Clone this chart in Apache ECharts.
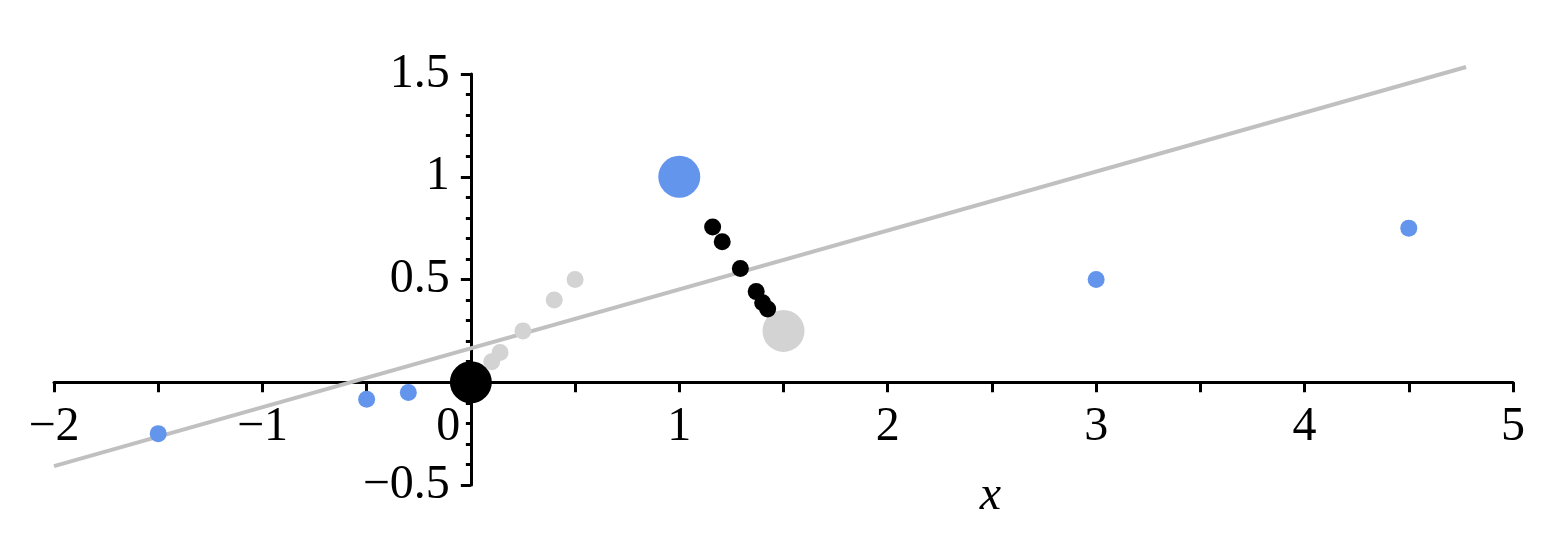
<!DOCTYPE html>
<html>
<head>
<meta charset="utf-8">
<script src="https://cdn.jsdelivr.net/npm/echarts@6/dist/echarts.min.js"></script>
<style>
    html, body { margin: 0; padding: 0; background: #fff; }
    #chart { width: 1542px; height: 558px; }
</style>
</head>
<body>
<div id="chart"></div>
<script>
// axis ranges and tick steps
const xRange = [-2, 5]
const yRange = [-0.5, 1.5]
const xStep = 0.5
const yStep = 0.5

// points
const bluePoints = [[-1.5, -0.25], [-0.5, -0.083], [-0.3, -0.05], [3, 0.5], [4.5, 0.75]]
const blueBig = [[1, 1]]
const grayPoints = [[0.1, 0.1], [0.14, 0.145], [0.25, 0.25], [0.4, 0.4], [0.5, 0.5]]
const grayBig = [[1.5, 0.25]]
const blackPoints = [[1.16, 0.755], [1.206, 0.684], [1.293, 0.554], [1.369, 0.441], [1.4, 0.387], [1.424, 0.356]]
const blackBig = [[0, 0]]
const fitLine = [[-2, -0.408], [4.775, 1.534]]

const FONT = '"Liberation Serif", "Times New Roman", serif'
const minus = v => String(v).replace('-', '\u2212')

const GRID = { left: 54, right: 29, top: 74, bottom: 73 }
const W = 1542
const H = 558

// the axes cross at (0, 0) inside the grid, so shift each axis there
const plotW = W - GRID.left - GRID.right
const plotH = H - GRID.top - GRID.bottom
const yAxisShift = -plotW * (0 - xRange[0]) / (xRange[1] - xRange[0])
const xAxisShift = -plotH * (0 - yRange[0]) / (yRange[1] - yRange[0])

const chart = echarts.init(document.getElementById('chart'))

const scatter = (data, color, size) => ({
    type: 'scatter',
    data: data,
    symbolSize: size,
    itemStyle: { color: color, opacity: 1 },
    emphasis: { disabled: true },
})

chart.setOption({
    animation: false,
    grid: {
        ...GRID,
        containLabel: false,
        outerBoundsMode: 'none',
    },
    xAxis: {
        type: 'value',
        min: xRange[0],
        max: xRange[1],
        interval: xStep,
        offset: xAxisShift,
        name: 'x',
        nameLocation: 'middle',
        nameGap: 90,
        nameTextStyle: {
            fontFamily: FONT,
            fontStyle: 'italic',
            fontSize: 48,
            color: '#000',
            padding: [0, 0, 0, 414],
        },
        axisLine: { onZero: false, lineStyle: { color: '#000', width: 3 } },
        axisTick: { length: 10, lineStyle: { color: '#000', width: 3 } },
        axisLabel: {
            fontFamily: FONT,
            fontSize: 48,
            color: '#000',
            margin: 21,
            showMinLabel: true,
            showMaxLabel: true,
            formatter: v => {
                if (v === 0) return '{z|0}'
                return Number.isInteger(v) ? minus(v) : ''
            },
            rich: {
                z: { fontFamily: FONT, fontSize: 48, color: '#000', padding: [0, 45, 0, 0] },
            },
        },
        splitLine: { show: false },
    },
    yAxis: {
        type: 'value',
        min: yRange[0],
        max: yRange[1],
        interval: yStep,
        offset: yAxisShift,
        axisLine: { show: true, onZero: false, lineStyle: { color: '#000', width: 3 } },
        axisTick: { show: true, length: 10, lineStyle: { color: '#000', width: 3 } },
        minorTick: { show: true, splitNumber: 5, length: 5, lineStyle: { color: '#000', width: 3 } },
        axisLabel: {
            fontFamily: FONT,
            fontSize: 48,
            color: '#000',
            margin: 21,
            showMinLabel: true,
            showMaxLabel: true,
            formatter: v => (v === 0 ? '' : minus(v)),
        },
        splitLine: { show: false },
    },
    series: [
        {
            type: 'line',
            data: fitLine,
            showSymbol: false,
            clip: false,
            lineStyle: { color: '#c0c0c0', width: 4 },
            emphasis: { disabled: true },
            z: 1,
        },
        scatter(grayPoints, '#d3d3d3', 17),
        scatter(grayBig, '#d3d3d3', 42),
        scatter(bluePoints, '#6495ed', 17),
        scatter(blueBig, '#6495ed', 42),
        scatter(blackPoints, '#000000', 17),
        scatter(blackBig, '#000000', 42),
    ],
})
</script>
</body>
</html>
